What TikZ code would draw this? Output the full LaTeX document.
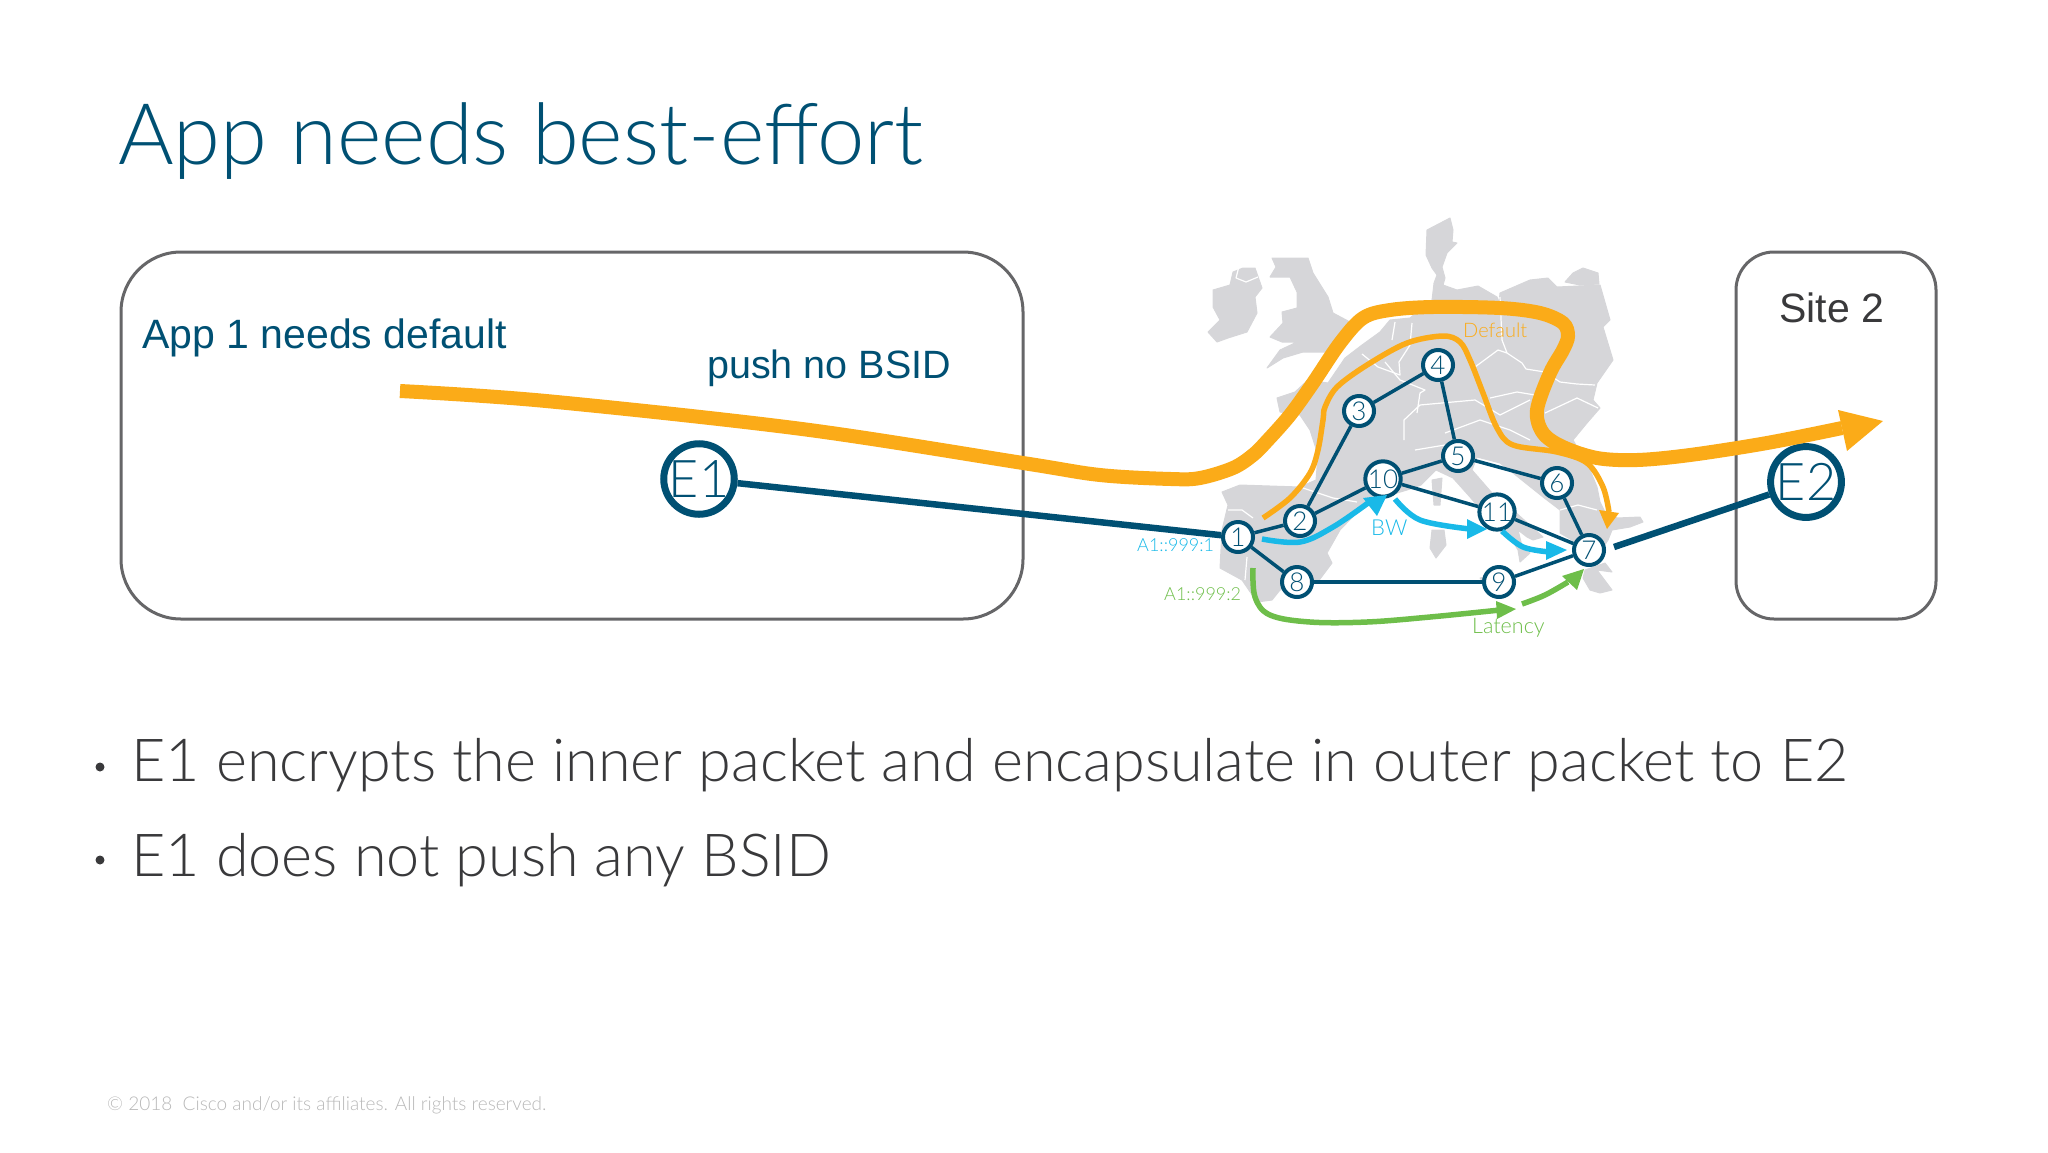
\documentclass[tikz,border=0pt]{standalone}
\usepackage{fontspec}
\setmainfont{Liberation Sans}
\newfontfamily\lf{Lato Light}
\definecolor{navy}{HTML}{005073}
\definecolor{orng}{HTML}{FBAB18}
\definecolor{sky}{HTML}{19B9E8}
\definecolor{grn}{HTML}{6EBE4A}
\definecolor{mapg}{HTML}{D6D6D9}
\definecolor{boxg}{HTML}{666668}
\definecolor{ink}{HTML}{39393B}
\tikzset{
  routerx/.style={circle,draw=navy,fill=white,line width=4pt,minimum size=30pt,inner sep=0pt,text=navy,font=\lf\fontsize{26}{26}\selectfont},
  edgenode/.style={circle,draw=navy,fill=white,line width=7pt,minimum size=69pt,inner sep=0pt,text=navy,font=\lf\fontsize{52}{52}\selectfont},
  link/.style={draw=navy,line width=3.5pt},
  trunk/.style={draw=navy,line width=6.5pt},
  site/.style={draw=boxg,line width=3pt,rounded corners=60pt},
  txt/.style={anchor=base west,inner sep=0pt},
  border/.style={draw=white,line width=1.2pt,line join=round},
  land/.style={fill=mapg,draw=mapg,line width=1pt,line join=round},
  thick orange/.style={draw=orng,line width=14pt},
  pathline/.style={line width=5.5pt}
}
\begin{document}
\begin{tikzpicture}[x=1pt,y=-1pt]
\useasboundingbox (0,0) rectangle (2048,1152);
% map
\path[land] (1213,290)--(1230,285)--(1233,272)--(1243,268)--(1255,268)--(1262,288)--(1255,297)--(1257,313)--(1247,332)--(1228,338)--(1217,342)--(1208,332)--(1220,320)--(1213,307)--cycle;
\path[land] (1272,258)--(1308,258)--(1313,273)--(1328,297)--(1333,313)--(1350,322)--(1348,332)--(1338,338)--(1328,352)--(1303,352)--(1283,358)--(1267,368)--(1280,350)--(1297,342)--(1282,342)--(1270,337)--(1283,323)--(1282,312)--(1297,308)--(1297,292)--(1290,277)--(1270,277)--(1276,267)--cycle;
\path[land] (1277,398)--(1295,392)--(1308,380)--(1328,383)--(1345,358)--(1362,345)--(1380,332)--(1390,320)--(1410,318)--(1432,300)--(1434,283)--(1437,275)--(1432,268)--(1426,255)--(1427,230)--(1450,218)--(1453,230)--(1452,242)--(1457,243)--(1447,253)--(1442,267)--(1445,278)--(1443,285)--(1457,290)--(1478,286)--(1497,297)--(1499,303)--(1500,293)--(1530,280)--(1548,278)--(1557,287)--(1600,285)--(1610,320)--(1603,327)--(1613,360)--(1597,383)--(1593,400)--(1600,408)--(1587,423)--(1573,440)--(1590,470)--(1597,487)--(1600,502)--(1605,512)--(1617,518)--(1640,517)--(1643,522)--(1630,527)--(1612,530)--(1608,540)--(1595,560)--(1577,543)--(1560,533)--(1560,510)--(1543,497)--(1513,473)--(1500,463)--(1477,457)--(1472,470)--(1492,493)--(1513,510)--(1543,537)--(1533,540)--(1527,537)--(1518,530)--(1523,550)--(1530,553)--(1520,562)--(1518,550)--(1508,533)--(1488,518)--(1470,497)--(1453,478)--(1436,470)--(1421,485)--(1407,490)--(1367,502)--(1340,530)--(1327,553)--(1332,563)--(1317,583)--(1280,590)--(1272,600)--(1257,602)--(1242,580)--(1220,568)--(1222,530)--(1228,505)--(1222,492)--(1240,485)--(1300,487)--(1316,480)--(1318,455)--(1310,430)--(1300,415)--(1280,412)--cycle;
% kaliningrad, islands, greece
\path[land] (1565,282)--(1573,273)--(1583,268)--(1598,273)--(1599,284)--(1580,285)--cycle;
\path[land] (1585,570)--(1605,563)--(1612,572)--(1597,570)--(1612,590)--(1600,593)--(1590,590)--(1583,578)--cycle;
\path[land] (1432,530)--(1444,530)--(1446,545)--(1436,558)--(1430,548)--cycle;
\path[land] (1432,480)--(1442,478)--(1440,505)--(1434,505)--cycle;
\path[land] (1480,578)--(1512,570)--(1508,590)--(1492,592)--cycle;
% borders
\draw[border] (1239,266)--(1236,278)--(1246,282)--(1258,277);
\draw[border] (1500,297)--(1502,340)--(1507,353)--(1498,350)--(1475,367);
\draw[border] (1507,353)--(1522,363)--(1526,369)--(1545,372)--(1560,382)--(1577,384)--(1595,385);
\draw[border] (1490,398)--(1517,392)--(1535,395);
\draw[border] (1545,413)--(1577,398)--(1598,408);
\draw[border] (1417,413)--(1420,393)--(1425,390)--(1400,380)--(1385,362);
\draw[border] (1362,354)--(1378,367)--(1400,375)--(1399,362)--(1410,345)--(1412,323);
\draw[border] (1395,322)--(1392,340);
\draw[border] (1404,440)--(1404,420)--(1420,405)--(1475,400)--(1500,415)--(1530,400);
\draw[border] (1445,433)--(1480,420)--(1510,430)--(1530,440);
\draw[border] (1415,450)--(1445,445);
\draw[border] (1300,487)--(1333,498)--(1357,502);
\draw[border] (1228,510)--(1242,510)--(1253,518);
\draw[border] (1247,557)--(1245,580);
\draw[border] (1560,510)--(1578,505)--(1597,510);
% boxes
\draw[site] (121,252) rectangle (1023,619);
\draw[site,rounded corners=38pt] (1736,252) rectangle (1936,619);
% nodes
\node[routerx] (n1) at (1238,537) {1};
\node[routerx] (n2) at (1300,521) {2};
\node[routerx] (n3) at (1359,411) {3};
\node[routerx] (n4) at (1438,365) {4};
\node[routerx] (n5) at (1458,456) {5};
\node[routerx] (n6) at (1557,483) {6};
\node[routerx] (n7) at (1589,550) {7};
\node[routerx] (n8) at (1297,582) {8};
\node[routerx] (n9) at (1499,582) {9};
\node[routerx] (n10) at (1383,479) {10};
\node[routerx] (n11) at (1497,512) {11};
\node[edgenode] (e1) at (699,479) {E1};
\node[edgenode] (e2) at (1806,482) {E2};
\coordinate (e2free) at (1614,547);
% blue and green paths
\draw[sky,pathline] plot[smooth,tension=0.6] coordinates {(1262,539)(1300,542)(1333,527)(1368,503)};
\fill[sky] (1387,495)--(1363,498)--(1377,516)--cycle;
\draw[sky,pathline] plot[smooth,tension=0.6] coordinates {(1395,499)(1420,520)(1470,529)};
\fill[sky] (1487,529)--(1467,519)--(1467,539)--cycle;
\draw[sky,pathline] plot[smooth,tension=0.6] coordinates {(1502,531)(1523,547)(1550,552)};
\fill[sky] (1567,550)--(1546,541)--(1546,560)--cycle;
\draw[grn,pathline] plot[smooth,tension=0.6] coordinates {(1253,568)(1255,597)(1270,615)(1310,622)(1367,622)(1430,617)(1500,610)};
\fill[grn] (1516,609)--(1496,601)--(1497,619)--cycle;
\draw[grn,pathline] plot[smooth,tension=0.6] coordinates {(1522,604)(1545,595)(1568,582)};
\fill[grn] (1584,569)--(1562,576)--(1577,590)--cycle;
% links
\draw[link] (n1)--(n2);
\draw[link] (n2)--(n3);
\draw[link] (n3)--(n4);
\draw[link] (n4)--(n5);
\draw[link] (n2)--(n10);
\draw[link] (n10)--(n5);
\draw[link] (n5)--(n6);
\draw[link] (n6)--(n7);
\draw[link] (n10)--(n11);
\draw[link] (n11)--(n7);
\draw[link] (n1)--(n8);
\draw[link] (n8)--(n9);
\draw[link] (n9)--(n7);
\draw[trunk] (e1)--(n1);
\draw[trunk] (e2free)--(e2);
% orange
\draw[orng,pathline] plot[smooth,tension=0.55] coordinates {(1263,518)(1290,498)(1310,473)(1318,450)(1323,420)(1325,407)(1337,387)(1367,365)(1407,343)(1443,336)(1460,342)(1470,360)(1483,393)(1497,428)(1513,445)(1557,452)(1587,463)(1603,487)(1609,512)};
\fill[orng] (1607,529)--(1599,510)--(1619,513)--cycle;
\draw[thick orange] plot[smooth,tension=0.55] coordinates {(400,391)(546,401)(802,429)(1023,463)(1100,475)(1171,479)(1200,478)(1233,468)(1253,455)(1267,441)(1290,415)(1313,383)(1340,343)(1363,318)(1390,310)(1433,307)(1500,308)(1540,313)(1563,323)(1568,336)(1563,350)(1550,373)(1537,410)(1543,433)(1563,447)(1597,458)(1637,460)(1690,455)(1767,443)(1842,428)};
\fill[orng] (1883,421)--(1838,410)--(1847,451)--cycle;
% texts
\node[txt,text=navy,font=\lf\fontsize{85}{90}\selectfont] (title) at (118,164) {App needs best-effort};
\node[txt,text=navy,font=\fontsize{41}{42}\selectfont] (app) at (142,348) {App 1 needs default};
\node[txt,text=navy,font=\fontsize{39.5}{42}\selectfont] (push) at (707,378) {push no BSID};
\node[txt,text=ink,font=\fontsize{41}{44}\selectfont] (sitetwo) at (1779,322) {Site 2};
\node[txt,text=ink,font=\lf\fontsize{59.3}{60}\selectfont] (b1) at (131,781) {E1 encrypts the inner packet and encapsulate in outer packet to E2};
\node[txt,text=ink,font=\lf\fontsize{59.3}{60}\selectfont] (b2) at (131,876) {E1 does not push any BSID};
\fill[ink] (100,767) circle (4.5pt);
\fill[ink] (100,860) circle (4.5pt);
\node[txt,text=black!28,font=\lf\fontsize{19}{20}\selectfont] (foot) at (107,1110) {© 2018\ \ Cisco and/or its affiliates. All rights reserved.};
\node[txt,text=sky,font=\lf\fontsize{18}{22}\selectfont] (bsa) at (1137,551) {A1::999:1};
\node[txt,text=grn,font=\lf\fontsize{18}{22}\selectfont] (bsb) at (1164,600) {A1::999:2};
\node[txt,text=sky,font=\lf\fontsize{22}{24}\selectfont] (bw) at (1371,535) {BW};
\node[txt,text=grn,font=\lf\fontsize{21.5}{24}\selectfont] (lat) at (1472,633) {Latency};
\node[txt,text=orng,font=\lf\fontsize{20}{24}\selectfont] (def) at (1463,337) {Default};
\end{tikzpicture}
\end{document}
